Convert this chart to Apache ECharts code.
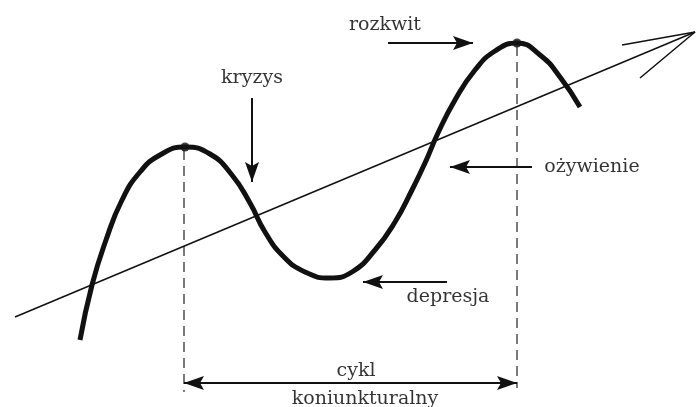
<!DOCTYPE html>
<html>
<head>
<meta charset="utf-8">
<script src="https://cdn.jsdelivr.net/npm/echarts@6/dist/echarts.min.js"></script>
<style>
  html, body { margin: 0; padding: 0; background: #fff; }
  #chart { width: 696px; height: 407px; }
</style>
</head>
<body>
<div id="chart"></div>
<script>
// business cycle curve (x right, y down)
var cycleCurve = [
  [80, 340], [92, 285], [106, 240], [122, 200], [140, 172], [160, 155],
  [185, 147], [210, 154], [232, 175], [250, 203], [265, 232], [283, 256],
  [305, 272], [330, 278], [352, 272], [375, 250], [395, 222], [412, 190],
  [425, 163], [438, 133], [455, 100], [475, 70], [495, 51], [517, 43],
  [540, 55], [560, 77], [580, 107]
];
var trendLine = [[15, 317], [695, 32]];
var trendHead = [[622, 45], [695, 32], [640, 78]];
var peaks = [[185, 147], [517, 43]];
var cycleBounds = [[184, 150, 184, 392], [517, 46, 517, 388]];
// x1, y1, x2, y2, head at start, head at end
var pointers = [
  [388, 43, 473, 43, 0, 1],
  [252, 98, 252, 182, 0, 1],
  [532, 167, 450, 167, 0, 1],
  [447, 282, 363, 282, 0, 1],
  [184, 383, 517, 383, 1, 1]
];
var labels = [
  [385, 25, 'rozkwit'],
  [252, 78, 'kryzys'],
  [592, 167, 'ożywienie'],
  [448, 297, 'depresja'],
  [356, 371, 'cykl'],
  [365, 399, 'koniunkturalny']
];

var ink = '#111';
var chart = echarts.init(document.getElementById('chart'));

function head(tip, from) {
  var dx = tip[0] - from[0], dy = tip[1] - from[1];
  var len = Math.sqrt(dx * dx + dy * dy);
  dx /= len; dy /= len;
  var L = 20, W = 7;
  var bx = tip[0] - dx * L, by = tip[1] - dy * L;
  var nx = tip[0] - dx * L * 0.8, ny = tip[1] - dy * L * 0.8;
  return {
    type: 'polygon',
    shape: { points: [tip, [bx - dy * W, by + dx * W], [nx, ny], [bx + dy * W, by - dx * W]] },
    style: { fill: ink }
  };
}

var option = {
  animation: false,
  grid: { left: 0, right: 0, top: 0, bottom: 0 },
  xAxis: { type: 'value', min: 0, max: 696, show: false },
  yAxis: { type: 'value', min: 0, max: 407, inverse: true, show: false },
  series: [
    {
      type: 'line', data: trendLine, symbol: 'none',
      lineStyle: { color: ink, width: 1.5 }
    },
    {
      type: 'line', data: trendHead, symbol: 'none',
      lineStyle: { color: ink, width: 1.5 }
    },
    {
      type: 'custom',
      data: cycleBounds,
      renderItem: function (params, api) {
        var a = api.coord([api.value(0), api.value(1)]);
        var b = api.coord([api.value(2), api.value(3)]);
        return {
          type: 'line',
          shape: { x1: a[0], y1: a[1], x2: b[0], y2: b[1] },
          style: { stroke: '#333', lineWidth: 1.3, lineDash: [10, 6] }
        };
      }
    },
    {
      type: 'line', data: cycleCurve, symbol: 'none', smooth: 0.5,
      lineStyle: { color: ink, width: 5 }
    },
    {
      type: 'scatter', data: peaks, symbolSize: 9,
      itemStyle: { color: ink }
    },
    {
      type: 'custom',
      data: pointers,
      renderItem: function (params, api) {
        var a = api.coord([api.value(0), api.value(1)]);
        var b = api.coord([api.value(2), api.value(3)]);
        var kids = [{
          type: 'line',
          shape: { x1: a[0], y1: a[1], x2: b[0], y2: b[1] },
          style: { stroke: ink, lineWidth: 2 }
        }];
        if (api.value(4)) kids.push(head(a, b));
        if (api.value(5)) kids.push(head(b, a));
        return { type: 'group', children: kids };
      }
    },
    {
      type: 'scatter', data: labels, symbolSize: 0,
      label: {
        show: true, position: 'inside',
        formatter: function (p) { return p.value[2]; },
        fontFamily: 'DejaVu Serif', fontSize: 19, color: '#000',
        align: 'center', verticalAlign: 'middle'
      }
    }
  ]
};
chart.setOption(option);
</script>
</body>
</html>
